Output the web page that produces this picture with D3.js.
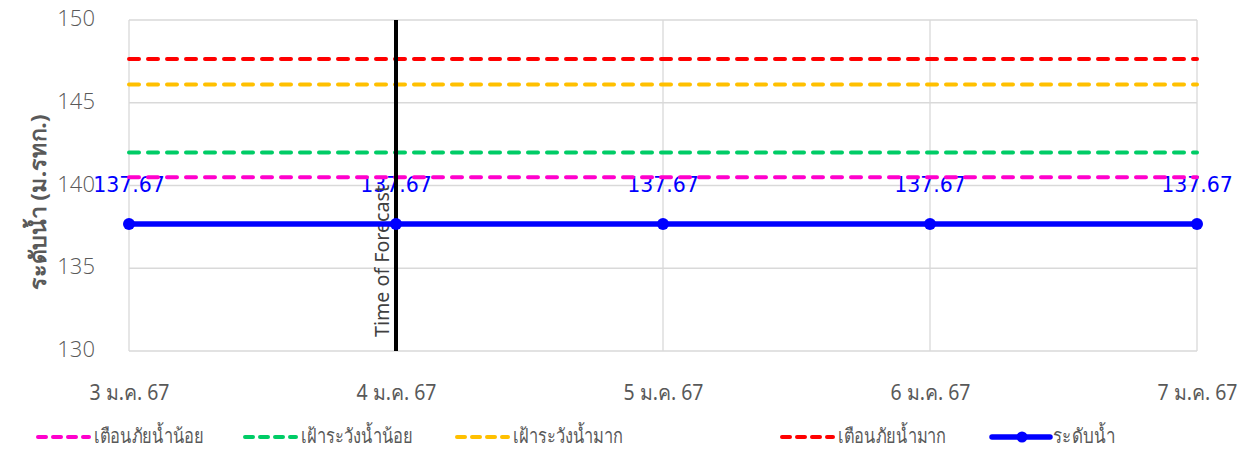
<!DOCTYPE html>
<html>
<head>
<meta charset="utf-8">
<script src="https://cdnjs.cloudflare.com/ajax/libs/d3/7.8.5/d3.min.js"></script>
<style>
  body { margin: 0; background: #fff; }
  text { font-family: "Noto Sans", "DejaVu Sans", sans-serif; }
</style>
</head>
<body>
<svg id="chart"></svg>
<script>
// data
const dates = ["3 ม.ค. 67", "4 ม.ค. 67", "5 ม.ค. 67", "6 ม.ค. 67", "7 ม.ค. 67"];
const waterLevel = [137.67, 137.67, 137.67, 137.67, 137.67];
const lowWarn = 140.5;     // เตือนภัยน้ำน้อย
const lowWatch = 142.0;    // เฝ้าระวังน้ำน้อย
const highWatch = 146.1;   // เฝ้าระวังน้ำมาก
const highWarn = 147.65;   // เตือนภัยน้ำมาก
const forecastDate = "4 ม.ค. 67";
const yTicks = [130, 135, 140, 145, 150];

const W = 1257, H = 450;
const margin = { top: 20, right: 60, bottom: 99, left: 129 };
const width = W - margin.left - margin.right,
      height = H - margin.top - margin.bottom;

const svg = d3.select("#chart")
    .attr("width", W)
    .attr("height", H);

const g = svg.append("g")
    .attr("transform", `translate(${margin.left},${margin.top})`);

const x = d3.scalePoint().domain(dates).range([0, width]);
const y = d3.scaleLinear().domain([130, 150]).range([height, 0]);

// gridlines
g.append("g")
    .selectAll("line.h")
    .data(yTicks)
    .join("line")
    .attr("x1", 0).attr("x2", width)
    .attr("y1", d => y(d)).attr("y2", d => y(d))
    .style("stroke", "#d9d9d9").style("stroke-width", 1.3);

g.append("g")
    .selectAll("line.v")
    .data(dates)
    .join("line")
    .attr("x1", d => x(d)).attr("x2", d => x(d))
    .attr("y1", 0).attr("y2", height)
    .style("stroke", "#d9d9d9").style("stroke-width", 1.3);

// y axis labels
const yAxis = g.append("g")
    .call(d3.axisLeft(y).tickValues(yTicks).tickSize(0).tickPadding(34));
yAxis.select(".domain").remove();
yAxis.selectAll("text")
    .attr("dy", "0.25em")
    .style("font-size", "22px")
    .style("font-weight", "300")
    .style("fill", "#595959")
    .style("font-family", "'Open Sans', 'Noto Sans', sans-serif");

// x axis labels
const xAxis = g.append("g")
    .attr("transform", `translate(0,${height})`)
    .call(d3.axisBottom(x).tickSize(0).tickPadding(34));
xAxis.select(".domain").remove();
xAxis.selectAll("text")
    .style("font-size", "21px")
    .style("fill", "#595959")
    .attr("textLength", 80)
    .attr("lengthAdjust", "spacingAndGlyphs");

// y axis title
svg.append("text")
    .attr("transform", "rotate(-90)")
    .attr("x", -202)
    .attr("y", 46)
    .style("text-anchor", "middle")
    .style("font-size", "22px")
    .style("font-weight", "bold")
    .style("fill", "#595959")
    .attr("textLength", 175)
    .attr("lengthAdjust", "spacingAndGlyphs")
    .text("ระดับน้ำ (ม.รทก.)");

// threshold lines
const thresholds = [
    { name: "เตือนภัยน้ำน้อย", value: lowWarn, color: "#ff00cc" },
    { name: "เฝ้าระวังน้ำน้อย", value: lowWatch, color: "#00cc66" },
    { name: "เฝ้าระวังน้ำมาก", value: highWatch, color: "#ffc000" },
    { name: "เตือนภัยน้ำมาก", value: highWarn, color: "#ff0000" }
];

const line = d3.line()
    .x(d => x(d.date))
    .y(d => y(d.value));

// data labels sit under the dashed lines
const levelData = dates.map((d, i) => ({ date: d, value: waterLevel[i] }));

g.selectAll("text.lbl")
    .data(levelData)
    .join("text")
    .attr("x", d => x(d.date))
    .attr("y", d => y(d.value) - 32)
    .style("text-anchor", "middle")
    .style("font-size", "20.5px")
    .style("fill", "#0000ff")
    .style("font-family", "'DejaVu Sans', sans-serif")
    .text(d => d.value.toFixed(2));

thresholds.forEach(t => {
    g.append("path")
        .datum(dates.map(d => ({ date: d, value: t.value })))
        .attr("d", line)
        .style("fill", "none")
        .style("stroke", t.color)
        .style("stroke-width", 4)
        .style("stroke-linecap", "round")
        .style("stroke-dasharray", "10,9");
});

// time of forecast marker
g.append("line")
    .attr("x1", x(forecastDate)).attr("x2", x(forecastDate))
    .attr("y1", 0).attr("y2", height)
    .style("stroke", "#000").style("stroke-width", 4);

g.append("text")
    .attr("transform", `translate(${x(forecastDate) - 7},${y(130) - 14}) rotate(-90)`)
    .style("font-size", "19.5px")
    .style("fill", "#404040")
    .attr("textLength", 152)
    .attr("lengthAdjust", "spacingAndGlyphs")
    .text("Time of Forecast");

// water level
g.append("path")
    .datum(levelData)
    .attr("d", line)
    .style("fill", "none")
    .style("stroke", "#0000ff")
    .style("stroke-width", 5.5);

g.selectAll("circle.pt")
    .data(levelData)
    .join("circle")
    .attr("cx", d => x(d.date))
    .attr("cy", d => y(d.value))
    .attr("r", 6)
    .style("fill", "#0000ff");

// legend
const legendItems = [
    { name: thresholds[0].name, color: thresholds[0].color, x: 38, tw: 110, dashed: true },
    { name: thresholds[1].name, color: thresholds[1].color, x: 245, tw: 112, dashed: true },
    { name: thresholds[2].name, color: thresholds[2].color, x: 457, tw: 110, dashed: true },
    { name: thresholds[3].name, color: thresholds[3].color, x: 782, tw: 108, dashed: true },
    { name: "ระดับน้ำ", color: "#0000ff", x: 992, tw: 62, dashed: false }
];

const legend = svg.append("g").attr("transform", "translate(0,437)");

legendItems.forEach(it => {
    const item = legend.append("g").attr("transform", `translate(${it.x},0)`);
    if (it.dashed) {
        item.append("line")
            .attr("x1", 0).attr("x2", 51)
            .style("stroke", it.color)
            .style("stroke-width", 4)
            .style("stroke-linecap", "round")
            .style("stroke-dasharray", "8,7");
    } else {
        item.append("line")
            .attr("x1", 0).attr("x2", 58)
            .style("stroke", it.color)
            .style("stroke-width", 5.5)
            .style("stroke-linecap", "round");
        item.append("circle")
            .attr("cx", 30).attr("r", 5.5)
            .style("fill", it.color);
    }
    item.append("text")
        .attr("x", it.dashed ? 56 : 61)
        .attr("y", 6)
        .style("font-size", "20px")
        .style("fill", "#595959")
        .attr("textLength", it.tw)
        .attr("lengthAdjust", "spacingAndGlyphs")
        .text(it.name);
});
</script>
</body>
</html>
